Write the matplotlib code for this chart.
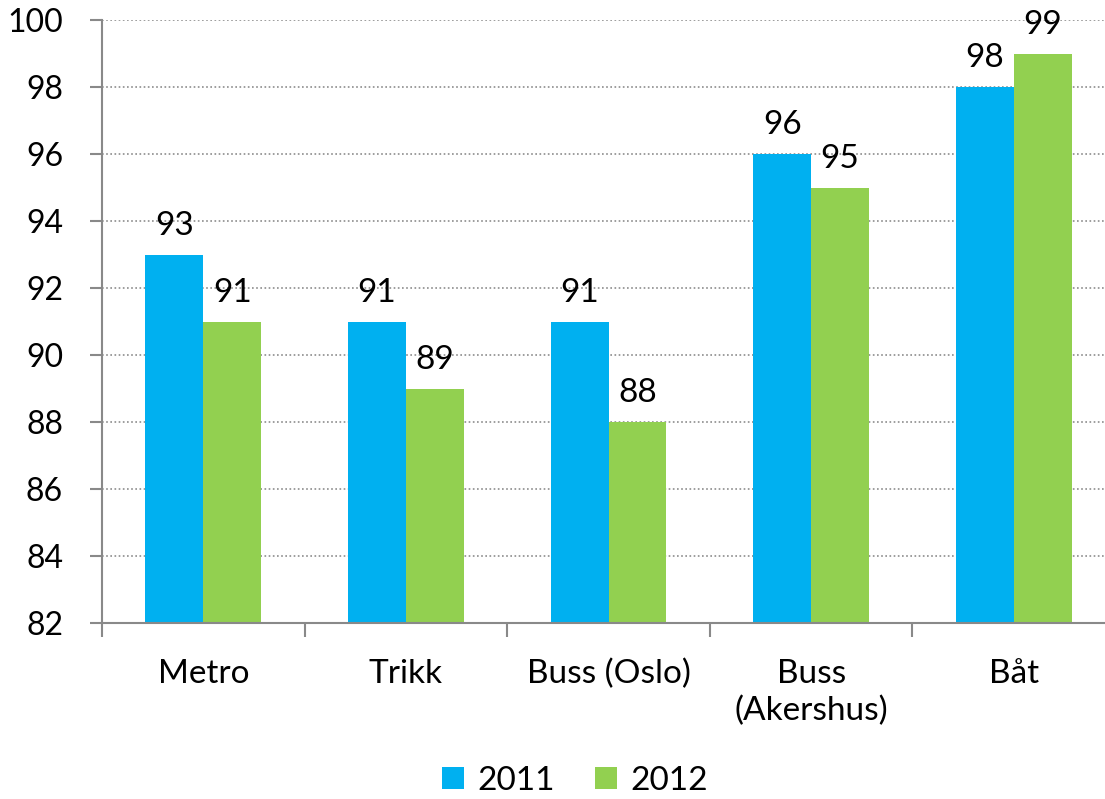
import matplotlib.pyplot as plt
import numpy as np

categories = ["Metro", "Trikk", "Buss (Oslo)", "Buss\n(Akershus)", "Båt"]
values_2011 = [93, 91, 91, 96, 98]
values_2012 = [91, 89, 88, 95, 99]
years = ["2011", "2012"]

plt.rcParams['font.family'] = ['Lato', 'DejaVu Sans']

fig = plt.figure(figsize=(11.05, 7.99), dpi=100)
ax = fig.add_axes([102/1105, 1 - 623/799, 1013/1105, 603/799])

x = np.arange(len(categories))
w = 0.286
b1 = ax.bar(x - w/2, np.array(values_2011) - 82, w, bottom=82, color='#00B0F0', label=years[0])
b2 = ax.bar(x + w/2, np.array(values_2012) - 82, w, bottom=82, color='#92D050', label=years[1])

for xs, vals in [(x - w/2, values_2011), (x + w/2, values_2012)]:
    for xi, v in zip(xs, vals):
        ax.annotate(str(v), (xi, v), xytext=(0, 10), textcoords='offset points',
                    ha='center', va='bottom', fontsize=24)

ax.set_xlim(-0.5, len(categories) - 0.5)
ax.set_ylim(82, 100)
ax.set_yticks(np.arange(82, 101, 2))
ax.tick_params(axis='y', labelsize=23, length=9, width=1.5, color='#898989', pad=19)
ax.set_xticks(x)
ax.set_xticklabels(categories, fontsize=24, linespacing=1.25)
ax.tick_params(axis='x', length=0, pad=26)
ax.set_xticks(np.arange(-0.5, len(categories), 1), minor=True)
ax.tick_params(axis='x', which='minor', length=10, width=1.5, color='#898989')

ax.yaxis.grid(True, linestyle=(0, (1, 1.5)), color='#8c8c8c', linewidth=1.2)
ax.set_axisbelow(True)
for s in ['top', 'right']:
    ax.spines[s].set_visible(False)
for s in ['left', 'bottom']:
    ax.spines[s].set_color('#898989')
    ax.spines[s].set_linewidth(1.5)

fig.legend(handles=[b1, b2], loc='center', bbox_to_anchor=(575/1105, 1 - 781/799),
           ncol=2, frameon=False, fontsize=24, handlelength=0.65, handleheight=0.65,
           handletextpad=0.4, columnspacing=1.2)

fig.savefig("out.png", dpi=100)
